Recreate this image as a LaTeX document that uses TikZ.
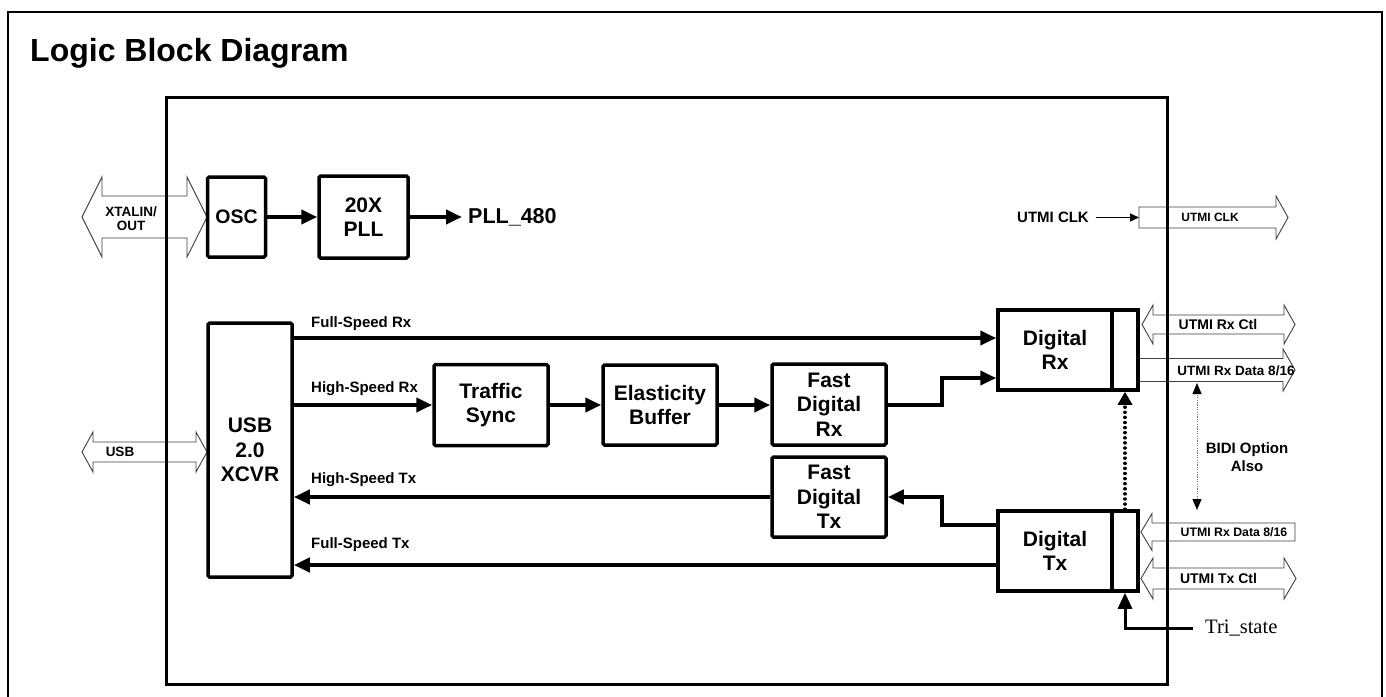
\documentclass[tikz,border=0pt]{standalone}
\usepackage{fontspec}
\setmainfont{Liberation Sans}
\newfontfamily\serifTri{Liberation Serif}
\usetikzlibrary{arrows.meta}
\tikzset{
  blk/.style={draw, line width=3.5pt, rounded corners=1.5pt, fill=white, inner sep=0pt, align=center,
    font=\fontsize{21}{24.5}\selectfont\bfseries},
  conn/.style={line width=4pt, -{Triangle[length=16pt,width=14pt]}},
  thinconn/.style={line width=1pt, -{Triangle[length=9pt,width=8pt]}},
  dotconn/.style={line width=3.4pt, line cap=round, dash pattern=on 0.1pt off 5pt, -{Triangle[length=13pt,width=14pt]}},
  bidi/.style={draw=black!55, line width=1pt, dash pattern=on 1.2pt off 1.2pt, {Triangle[length=11pt,width=9pt,fill=black,color=black]}-{Triangle[length=11pt,width=9pt,fill=black,color=black]}},
  barrow/.style={draw=black!75, line width=0.9pt, fill=white, line join=miter},
  alab/.style={inner sep=0pt, align=center, font=\fontsize{13.5}{14}\selectfont\bfseries},
  slab/.style={inner sep=0pt, font=\fontsize{15}{18}\selectfont\bfseries},
}
\newcommand\dblArr[6]{% x1 x2 yc headhalf shafthalf headlen
  \draw[barrow] (#1,#3) -- ({#1+#6},{#3-#4}) -- ({#1+#6},{#3-#5}) -- ({#2-#6},{#3-#5}) -- ({#2-#6},{#3-#4}) -- (#2,#3) -- ({#2-#6},{#3+#4}) -- ({#2-#6},{#3+#5}) -- ({#1+#6},{#3+#5}) -- ({#1+#6},{#3+#4}) -- cycle;}
\newcommand\rArr[6]{%
  \draw[barrow] (#1,{#3-#5}) -- ({#2-#6},{#3-#5}) -- ({#2-#6},{#3-#4}) -- (#2,#3) -- ({#2-#6},{#3+#4}) -- ({#2-#6},{#3+#5}) -- (#1,{#3+#5}) -- cycle;}
\newcommand\lArr[6]{%
  \draw[barrow] (#1,#3) -- ({#1+#6},{#3-#4}) -- ({#1+#6},{#3-#5}) -- (#2,{#3-#5}) -- (#2,{#3+#5}) -- ({#1+#6},{#3+#5}) -- ({#1+#6},{#3+#4}) -- cycle;}
\begin{document}
\begin{tikzpicture}[x=1pt,y=-1pt]
\useasboundingbox (0,0) rectangle (1386,696);
\fill[white] (0,0) rectangle (1386,696);
% outer frame
\draw[line width=1.5pt] (8,710) -- (8,12) -- (1382,12) -- (1382,710);
\node[anchor=base west, inner sep=0pt, font=\fontsize{32}{38}\selectfont\bfseries] (title) at (30,61) {Logic Block Diagram};
% block arrows (behind the frame)
\dblArr{82}{207}{217}{40}{21}{20}
\dblArr{82}{207}{452}{20}{10}{11}
\rArr{1139}{1288}{217.5}{21.5}{10.5}{12}
\dblArr{1142}{1295}{324.5}{19.5}{9.5}{11}
\rArr{1138}{1295}{370}{21}{11.5}{12}
\lArr{1141}{1295}{532}{18.5}{9}{11}
\dblArr{1141}{1296}{578.5}{20.5}{10.5}{12}
\node[alab] (xtal) at (131,219) {XTALIN/\\OUT};
\node[alab] (usbl) at (120,452) {USB};
\node[alab, font=\fontsize{12}{14}\selectfont\bfseries] (uclkin) at (1210,217) {UTMI CLK};
\node[alab, font=\fontsize{14}{16}\selectfont\bfseries] (urxctl) at (1218,324.5) {UTMI Rx Ctl};
\node[alab] (urxd1) at (1236,371) {UTMI Rx Data 8/16};
\node[alab, font=\fontsize{12.3}{14}\selectfont\bfseries] (urxd2) at (1234,532) {UTMI Rx Data 8/16};
\node[alab, font=\fontsize{14}{16}\selectfont\bfseries] (utxctl) at (1218.5,578.5) {UTMI Tx Ctl};
% inner frame
\draw[line width=3pt] (166,97) rectangle (1167,684);
% blocks
\node[blk, minimum width=58pt, minimum height=80pt, font=\fontsize{19.5}{24}\selectfont\bfseries] (osc) at (236.5,217) {OSC};
\node[blk, minimum width=89pt, minimum height=82pt] (pll) at (363.5,217) {20X\\PLL};
\node[blk, minimum width=84pt, minimum height=254pt] (xcvr) at (250,450) {USB\\2.0\\XCVR};
\node[blk, minimum width=114pt, minimum height=81pt] (ts) at (491,405) {Traffic\\Sync};
\node[blk, minimum width=114pt, minimum height=80pt] (eb) at (660,405) {Elasticity\\Buffer};
\node[blk, minimum width=114pt, minimum height=81pt] (fdrx) at (829,404.5) {Fast\\Digital\\Rx};
\node[blk, minimum width=114pt, minimum height=80pt] (fdtx) at (829,497) {Fast\\Digital\\Tx};
\node[blk, minimum width=114pt, minimum height=80pt, rounded corners=0pt] (drx) at (1055,350) {Digital\\Rx};
\node[blk, minimum width=26pt, minimum height=80pt, rounded corners=0pt] (drxp) at (1125,350) {};
\node[blk, minimum width=114pt, minimum height=80pt, rounded corners=0pt] (dtx) at (1055,551) {Digital\\Tx};
\node[blk, minimum width=26pt, minimum height=80pt, rounded corners=0pt] (dtxp) at (1125,551) {};
% texts
\node[anchor=west, inner sep=0pt, font=\fontsize{21.5}{24}\selectfont\bfseries] (p480) at (468,217) {PLL\_480};
\node[slab, anchor=west] (lfsrx) at (311,324) {Full-Speed Rx};
\node[slab, anchor=west] (lhsrx) at (311,389) {High-Speed Rx};
\node[slab, anchor=west] (lhstx) at (311,480) {High-Speed Tx};
\node[slab, anchor=west] (lfstx) at (311,545) {Full-Speed Tx};
\node[slab] (uclk) at (1053,217.5) {UTMI CLK};
\node[slab, align=center, font=\fontsize{15}{18}\selectfont\bfseries] (bidil) at (1247,457) {BIDI Option\\Also};
\node[anchor=west, inner sep=0pt, font=\serifTri\fontsize{20.5}{24}\selectfont] (tri) at (1205,628) {Tri\_state};
% coordinates
\coordinate (yfs) at (0,338);
\coordinate (yft) at (0,565);
\coordinate (jr) at (942,378);
\coordinate (jt) at (942,525);
\coordinate (clkin) at (1139,217.5);
\coordinate (bt) at (1197,383);
\coordinate (bb) at (1197,510);
% connectors
\draw[conn] (osc.east) -- (pll.west);
\draw[conn] (pll.east) -- ([xshift=-6pt]p480.west);
\draw[conn] (xcvr.east |- yfs) -- (drx.west |- yfs);
\draw[conn] (xcvr.east |- ts.west) -- (ts.west);
\draw[conn] (ts.east) -- (eb.west);
\draw[conn] (eb.east) -- (fdrx.west |- eb.east);
\draw[conn] (fdrx.east) -| (jr) -- (drx.west |- jr);
\draw[conn] (dtx.west |- jt) -- (jt) |- (fdtx.east);
\draw[conn] (fdtx.west) -- (xcvr.east |- fdtx.west);
\draw[conn] (dtx.west |- yft) -- (xcvr.east |- yft);
\draw[dotconn] (dtxp.north) -- (drxp.south);
\draw[conn, line width=3pt] ([xshift=-12pt]tri.west) -| (dtxp.south);
\draw[thinconn] ([xshift=7pt]uclk.east) -- (clkin);
\draw[bidi] (bb) -- (bt);
\end{tikzpicture}
\end{document}
